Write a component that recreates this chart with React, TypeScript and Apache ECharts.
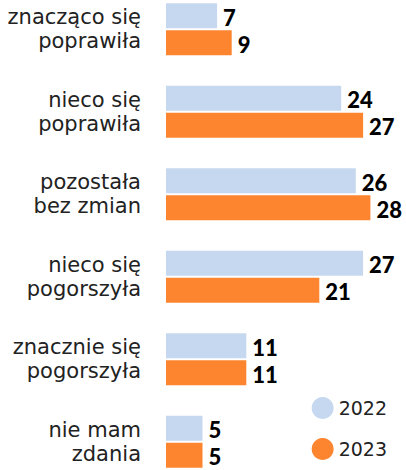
import React, { useEffect, useRef } from "react";
import * as echarts from "echarts";

const categories = [
  "znacząco się\npoprawiła",
  "nieco się\npoprawiła",
  "pozostała\nbez zmian",
  "nieco się\npogorszyła",
  "znacznie się\npogorszyła",
  "nie mam\nzdania",
];
const seriesNames = ["2022", "2023"];
const values2022 = [7, 24, 26, 27, 11, 5];
const values2023 = [9, 27, 28, 21, 11, 5];
const colors = ["#c6d8ef", "#fd8530"];

export default function App() {
  const ref = useRef<HTMLDivElement>(null);
  useEffect(() => {
    if (!ref.current) return;
    const chart = echarts.init(ref.current, null, { renderer: "svg" });
    const labelStyle = {
      show: true,
      position: "right" as const,
      distance: 6,
      offset: [0, 1.5],
      fontFamily: "Lato",
      fontWeight: 900,
      fontSize: 22,
      lineHeight: 18,
      color: "#000",
    };
    chart.setOption({
      animation: false,
      grid: { left: 166, width: 219, top: 0, height: 495, containLabel: false },
      legend: {
        data: seriesNames,
        orient: "vertical",
        right: 14,
        top: 404,
        icon: "circle",
        itemWidth: 22,
        itemHeight: 22,
        itemGap: 19,
        textStyle: { fontFamily: "DejaVu Sans", fontSize: 19, color: "#222" },
      },
      xAxis: {
        type: "value",
        min: 0,
        max: 30,
        show: false,
      },
      yAxis: {
        type: "category",
        data: categories,
        inverse: true,
        axisLine: { show: false },
        axisTick: { show: false },
        splitLine: { show: false },
        axisLabel: {
          margin: 25,
          fontFamily: "DejaVu Sans",
          fontSize: 21,
          lineHeight: 24,
          color: "#222",
          align: "right",
        },
      },
      series: [
        {
          name: seriesNames[0],
          type: "bar",
          data: values2022,
          barWidth: 25,
          barGap: "8%",
          itemStyle: { color: colors[0] },
          label: labelStyle,
        },
        {
          name: seriesNames[1],
          type: "bar",
          data: values2023,
          barWidth: 25,
          barGap: "8%",
          itemStyle: { color: colors[1] },
          label: labelStyle,
        },
      ],
    });
    return () => chart.dispose();
  }, []);
  return (
    <div
      style={{ position: "absolute", left: 0, top: 0, width: 406, height: 470, overflow: "hidden", background: "#fff" }}
    >
      <div ref={ref} style={{ position: "absolute", left: 0, top: -12, width: 406, height: 495 }} />
    </div>
  );
}
